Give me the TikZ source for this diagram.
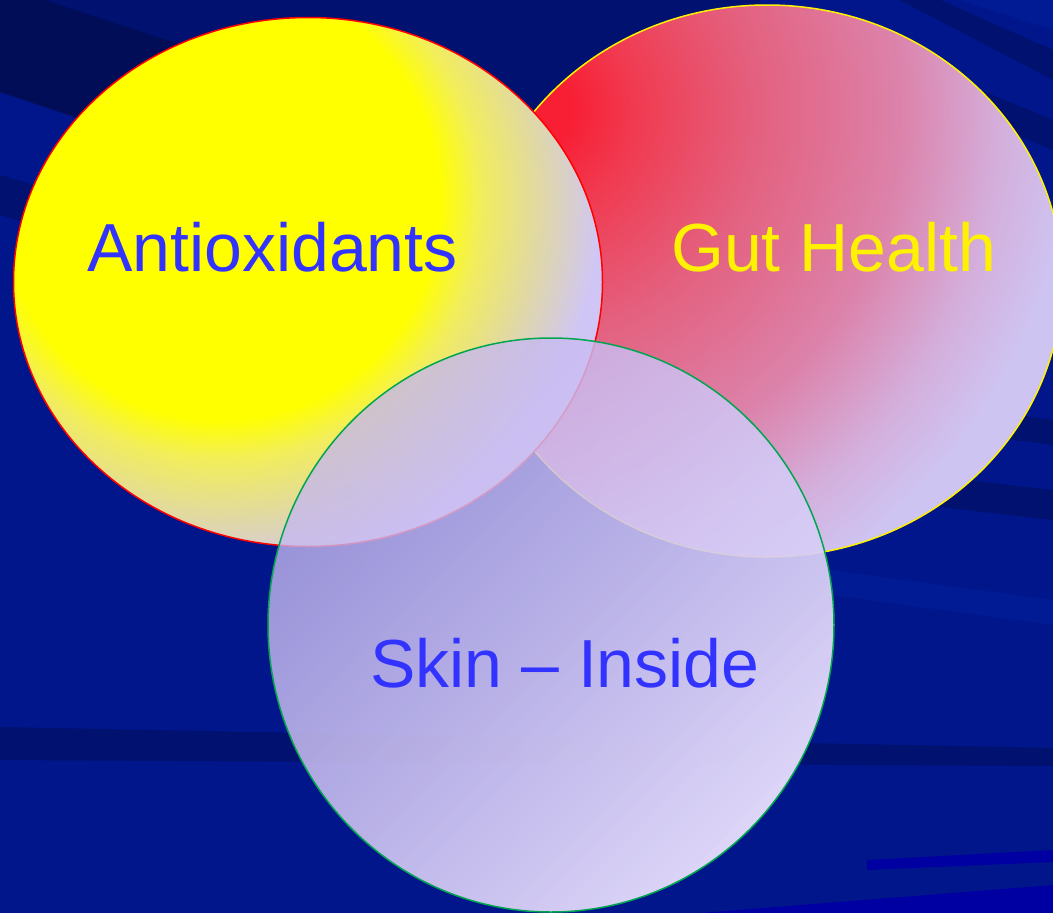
\documentclass[tikz,border=0pt]{standalone}
\usepackage{fontspec}
\setmainfont{Liberation Sans}
\usetikzlibrary{fadings}
\definecolor{bgbase}{RGB}{0,22,138}
\definecolor{bgdark}{RGB}{2,13,88}
\definecolor{bgmid}{RGB}{0,17,112}
\definecolor{bglight}{RGB}{0,27,148}
\definecolor{bgvivid}{RGB}{0,0,162}
\definecolor{lavY}{RGB}{208,198,245}
\definecolor{yelB}{RGB}{242,238,90}
\definecolor{beigeY}{RGB}{224,216,165}
\definecolor{redA}{RGB}{248,30,52}
\definecolor{redB}{RGB}{240,60,82}
\definecolor{pinkA}{RGB}{228,95,125}
\definecolor{pinkB}{RGB}{220,130,170}
\definecolor{pinkC}{RGB}{212,175,220}
\definecolor{lavR}{RGB}{206,196,242}
\definecolor{circA}{RGB}{196,182,240}
\definecolor{circB}{RGB}{222,214,248}
\definecolor{txtblue}{RGB}{51,51,255}
\definecolor{outgreen}{RGB}{0,165,80}
% concentric radial shadings (25bp = radius of the shaded circle)
\pgfdeclareradialshading{yelshade}{\pgfpoint{0bp}{0bp}}{color(0bp)=(yellow); color(12.2bp)=(yellow); color(14.4bp)=(yelB); color(17.8bp)=(beigeY); color(21.1bp)=(lavY); color(50bp)=(lavY)}
\pgfdeclareradialshading{redshade}{\pgfpoint{0bp}{0bp}}{color(0bp)=(redA); color(1.6bp)=(redA); color(4.4bp)=(redB); color(8.9bp)=(pinkA); color(14.9bp)=(pinkB); color(19bp)=(pinkC); color(22bp)=(lavR); color(50bp)=(lavR)}
\tikzfading[name=circfade, top color=transparent!24, middle color=transparent!2, bottom color=transparent!0]
\begin{document}
\begin{tikzpicture}[x=1pt,y=-1pt,
  lbl/.style={anchor=base west, inner sep=0pt, font=\fontsize{68}{80}\selectfont}]
\useasboundingbox (0,0) rectangle (1053,913);
\clip (0,0) rectangle (1053,913);
% background
\fill[bgbase] (0,0) rectangle (1053,913);
\fill[bgmid] (45,0) -- (760,0) -- (760,239) -- cycle;
\fill[bgdark] (0,0) -- (45,0) -- (620,190) -- (620,300) -- (0,92) -- cycle;
\fill[bgmid] (0,175) -- (400,290) -- (400,330) -- (0,215) -- cycle;
\fill[bglight] (960,0) -- (1053,0) -- (1053,30) -- cycle;
\fill[bgmid] (900,0) -- (940,0) -- (1053,50) -- (1053,80) -- cycle;
\fill[bgmid] (860,40) -- (1053,120) -- (1053,150) -- (860,70) -- cycle;
\fill[bgmid] (900,400) -- (1053,420) -- (1053,445) -- (900,425) -- cycle;
\fill[bgmid] (880,470) -- (1053,490) -- (1053,520) -- (880,500) -- cycle;
\fill[bglight] (830,570) -- (1053,600) -- (1053,625) -- (830,595) -- cycle;
\fill[bgmid] (0,727) -- (1053,748) -- (1053,766) -- (0,760) -- cycle;
\fill[bgvivid] (867,860) -- (1053,850) -- (1053,862) -- (867,870) -- cycle;
\fill[bgvivid] (700,913) -- (1053,885) -- (1053,913) -- cycle;
% Gut Health ellipse
\begin{scope}
  \clip (767,281) ellipse [x radius=295pt, y radius=276pt];
  \shade[shading=redshade] (530,110) circle (620pt);
\end{scope}
\draw[yellow, line width=1.5pt] (767,281) ellipse [x radius=295pt, y radius=276pt];
% Antioxidants ellipse
\begin{scope}
  \clip (308,282) ellipse [x radius=294.5pt, y radius=264.5pt];
  \shade[shading=yelshade] (220,200) circle (450pt);
\end{scope}
\draw[red, line width=1.5pt] (308,282) ellipse [x radius=294.5pt, y radius=264.5pt];
% Skin circle
\shade[top color=circA, bottom color=circB, shading angle=45, path fading=circfade, fading angle=45]
  (551,625) ellipse [x radius=283pt, y radius=287pt];
\draw[outgreen, line width=1.5pt] (551,625) ellipse [x radius=283pt, y radius=287pt];
% labels
\node[lbl, text=txtblue] (anti) at (87,271) {Antioxidants};
\node[lbl, text=yellow] (gut) at (671,271) {Gut Health};
\node[lbl, text=txtblue] (skin) at (370,687) {Skin – Inside};
\end{tikzpicture}
\end{document}
